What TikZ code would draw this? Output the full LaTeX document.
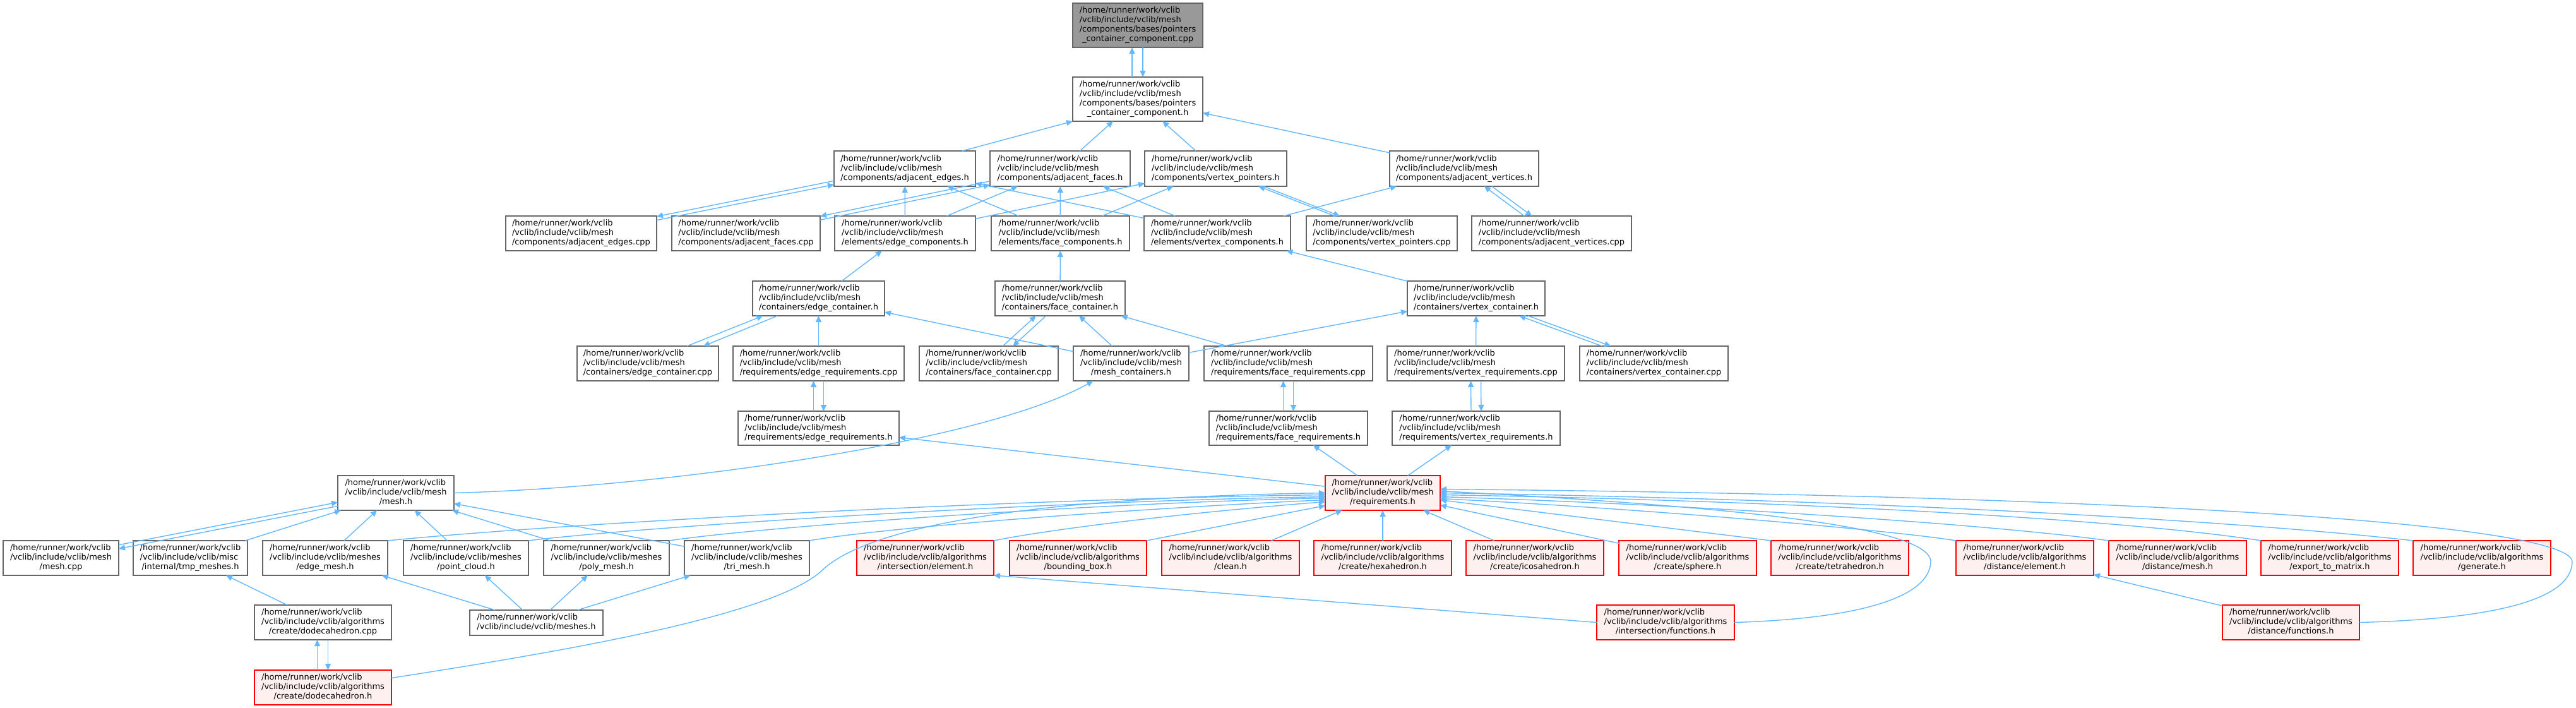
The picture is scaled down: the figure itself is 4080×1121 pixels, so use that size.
\documentclass[tikz,border=0pt]{standalone}
\usepackage{fontspec}
\setmainfont{DejaVu Sans}
\usetikzlibrary{arrows.meta}
\definecolor{edgec}{HTML}{63B8FF}
\definecolor{bordc}{HTML}{666666}
\definecolor{rootc}{HTML}{999999}
\definecolor{redfill}{HTML}{FFF0F0}
\newcommand\Lhome{/home/runner/work/vclib\\}
\newcommand\Lmesh{/vclib/include/vclib/mesh\\}
\newcommand\Lalg{/vclib/include/vclib/algorithms\\}
\newcommand\Lmeshes{/vclib/include/vclib/meshes\\}
\newcommand\Lmisc{/vclib/include/vclib/misc\\}
\newcommand\mynode[8]{%
  \node[#2, minimum width={#5-#3}, minimum height={#6-#4}] (#1) at ({(#3+#5)/2},{(#4+#6)/2})
  {\begin{tabular}{@{}l@{}}#7\multicolumn{1}{@{}c@{}}{#8}\end{tabular}};}
\begin{document}
\begin{tikzpicture}[x=1pt,y=-1pt,
  nbox/.style={draw=bordc, line width=1.2pt, fill=white, inner sep=0pt, outer sep=0pt,
    font=\fontsize{13}{15}\selectfont, text=black},
  rootbox/.style={nbox, fill=rootc},
  redbox/.style={nbox, draw=red, fill=redfill},
  edge/.style={draw=edgec, line width=1.4pt, -{Triangle[length=10pt,width=9pt]}},
]
\fill[white] (0,0) rectangle (4080,1121);
\useasboundingbox (0,0) rectangle (4080,1121);

% row 0-1
\mynode{root}{rootbox}{1699}{5}{1905}{75}{\Lhome\Lmesh/components/bases/pointers\\}{\_container\_component.cpp}
\mynode{pcch}{nbox}{1699}{122}{1905}{192}{\Lhome\Lmesh/components/bases/pointers\\}{\_container\_component.h}
% row 2
\mynode{aeh}{nbox}{1321}{239}{1545}{295}{\Lhome\Lmesh}{/components/adjacent\_edges.h}
\mynode{afh}{nbox}{1568}{239}{1790}{295}{\Lhome\Lmesh}{/components/adjacent\_faces.h}
\mynode{vph}{nbox}{1813}{239}{2038}{295}{\Lhome\Lmesh}{/components/vertex\_pointers.h}
\mynode{avh}{nbox}{2201}{239}{2437}{295}{\Lhome\Lmesh}{/components/adjacent\_vertices.h}
% row 3
\mynode{aec}{nbox}{801}{342}{1040}{397}{\Lhome\Lmesh}{/components/adjacent\_edges.cpp}
\mynode{afc}{nbox}{1064}{342}{1299}{397}{\Lhome\Lmesh}{/components/adjacent\_faces.cpp}
\mynode{ech}{nbox}{1322}{342}{1545}{397}{\Lhome\Lmesh}{/elements/edge\_components.h}
\mynode{fch}{nbox}{1570}{342}{1789}{397}{\Lhome\Lmesh}{/elements/face\_components.h}
\mynode{vch}{nbox}{1812}{342}{2044}{397}{\Lhome\Lmesh}{/elements/vertex\_components.h}
\mynode{vpc}{nbox}{2069}{342}{2308}{397}{\Lhome\Lmesh}{/components/vertex\_pointers.cpp}
\mynode{avc}{nbox}{2331}{342}{2584}{397}{\Lhome\Lmesh}{/components/adjacent\_vertices.cpp}
% row 4
\mynode{ecth}{nbox}{1192}{445}{1401}{500}{\Lhome\Lmesh}{/containers/edge\_container.h}
\mynode{fcth}{nbox}{1576}{445}{1782}{500}{\Lhome\Lmesh}{/containers/face\_container.h}
\mynode{vcth}{nbox}{2229}{445}{2447}{500}{\Lhome\Lmesh}{/containers/vertex\_container.h}
% row 5
\mynode{ectc}{nbox}{914}{548}{1138}{603}{\Lhome\Lmesh}{/containers/edge\_container.cpp}
\mynode{erc}{nbox}{1161}{548}{1432}{603}{\Lhome\Lmesh}{/requirements/edge\_requirements.cpp}
\mynode{fctc}{nbox}{1456}{548}{1676}{603}{\Lhome\Lmesh}{/containers/face\_container.cpp}
\mynode{mch}{nbox}{1700}{548}{1883}{603}{\Lhome\Lmesh}{/mesh\_containers.h}
\mynode{frc}{nbox}{1907}{548}{2174}{603}{\Lhome\Lmesh}{/requirements/face\_requirements.cpp}
\mynode{vrc}{nbox}{2197}{548}{2478}{603}{\Lhome\Lmesh}{/requirements/vertex\_requirements.cpp}
\mynode{vctc}{nbox}{2502}{548}{2737}{603}{\Lhome\Lmesh}{/containers/vertex\_container.cpp}
% row 6
\mynode{erh}{nbox}{1169}{651}{1424}{705}{\Lhome\Lmesh}{/requirements/edge\_requirements.h}
\mynode{frh}{nbox}{1915}{651}{2166}{705}{\Lhome\Lmesh}{/requirements/face\_requirements.h}
\mynode{vrh}{nbox}{2205}{651}{2471}{705}{\Lhome\Lmesh}{/requirements/vertex\_requirements.h}
% row 7
\mynode{meshh}{nbox}{535}{753}{719}{808}{\Lhome\Lmesh}{/mesh.h}
\mynode{req}{redbox}{2099}{753}{2281}{808}{\Lhome\Lmesh}{/requirements.h}
% row 8
\mynode{meshc}{nbox}{5}{856}{188}{911}{\Lhome\Lmesh}{/mesh.cpp}
\mynode{tmp}{nbox}{211}{856}{392}{911}{\Lhome\Lmisc}{/internal/tmp\_meshes.h}
\mynode{em}{nbox}{416}{856}{614}{911}{\Lhome\Lmeshes}{/edge\_mesh.h}
\mynode{pc}{nbox}{639}{856}{837}{911}{\Lhome\Lmeshes}{/point\_cloud.h}
\mynode{pm}{nbox}{861}{856}{1060}{911}{\Lhome\Lmeshes}{/poly\_mesh.h}
\mynode{tm}{nbox}{1084}{856}{1282}{911}{\Lhome\Lmeshes}{/tri\_mesh.h}
\mynode{ie}{redbox}{1357}{856}{1574}{911}{\Lhome\Lalg}{/intersection/element.h}
\mynode{bb}{redbox}{1599}{856}{1816}{911}{\Lhome\Lalg}{/bounding\_box.h}
\mynode{cl}{redbox}{1840}{856}{2058}{911}{\Lhome\Lalg}{/clean.h}
\mynode{hex}{redbox}{2081}{856}{2299}{911}{\Lhome\Lalg}{/create/hexahedron.h}
\mynode{ico}{redbox}{2322}{856}{2540}{911}{\Lhome\Lalg}{/create/icosahedron.h}
\mynode{sph}{redbox}{2564}{856}{2782}{911}{\Lhome\Lalg}{/create/sphere.h}
\mynode{tet}{redbox}{2805}{856}{3023}{911}{\Lhome\Lalg}{/create/tetrahedron.h}
\mynode{de}{redbox}{3098}{856}{3316}{911}{\Lhome\Lalg}{/distance/element.h}
\mynode{dm}{redbox}{3340}{856}{3558}{911}{\Lhome\Lalg}{/distance/mesh.h}
\mynode{etm}{redbox}{3581}{856}{3799}{911}{\Lhome\Lalg}{/export\_to\_matrix.h}
\mynode{gen}{redbox}{3822}{856}{4040}{911}{\Lhome\Lalg}{/generate.h}
% row 9
\mynode{dodc}{nbox}{403}{958}{620}{1013}{\Lhome\Lalg}{/create/dodecahedron.cpp}
\mynode{meshes}{nbox}{744}{966}{955}{1006}{\Lhome}{/vclib/include/vclib/meshes.h}
\mynode{ifn}{redbox}{2529}{958}{2747}{1013}{\Lhome\Lalg}{/intersection/functions.h}
\mynode{dfn}{redbox}{3520}{958}{3737}{1013}{\Lhome\Lalg}{/distance/functions.h}
% row 10
\mynode{dodh}{redbox}{403}{1061}{620}{1116}{\Lhome\Lalg}{/create/dodecahedron.h}

% ---- edges ----
\draw[edge] ([xshift=-9pt]pcch.north) -- ([xshift=-9pt]root.south);
\draw[edge] ([xshift=8pt]root.south) -- ([xshift=8pt]pcch.north);
\draw[edge] ([xshift=91pt]aeh.north) -- (pcch.south west);
\draw[edge] (afh) -- (pcch);
\draw[edge] (vph) -- (pcch);
\draw[edge] (avh) -- (pcch);

\draw[edge, transform canvas={yshift=3pt}] (aeh) -- (aec);
\draw[edge, transform canvas={yshift=-3pt}] (aec) -- (aeh);
\draw[edge] (ech) -- (aeh);
\draw[edge] (fch) -- (aeh);
\draw[edge] (vch) -- (aeh);
\draw[edge, transform canvas={yshift=3pt}] (afh) -- (afc);
\draw[edge, transform canvas={yshift=-3pt}] (afc) -- (afh);
\draw[edge] (ech) -- (afh);
\draw[edge] (fch) -- (afh);
\draw[edge] (vch) -- (afh);
\draw[edge, transform canvas={xshift=-4pt}] (vpc) -- (vph);
\draw[edge, transform canvas={xshift=4pt}] (vph) -- (vpc);
\draw[edge] (ech) -- (vph);
\draw[edge] (fch) -- (vph);
\draw[edge] (vch) -- (avh);
\draw[edge, transform canvas={xshift=-6pt}] (avc) -- (avh);
\draw[edge, transform canvas={xshift=6pt}] (avh) -- (avc);

\draw[edge] (ecth) -- (ech);
\draw[edge] (fcth) -- (fch);
\draw[edge] (vcth) -- (vch);

\draw[edge] ([xshift=62pt]ectc.north) -- ([xshift=-88pt]ecth.south);
\draw[edge] ([xshift=-65pt]ecth.south) -- ([xshift=88pt]ectc.north);
\draw[edge] (erc) -- (ecth);
\draw[edge] (mch) -- (ecth);
\draw[edge, transform canvas={xshift=-8pt}] (fctc) -- (fcth);
\draw[edge, transform canvas={xshift=8pt}] (fcth) -- (fctc);
\draw[edge] (mch) -- (fcth);
\draw[edge] (frc) -- (fcth);
\draw[edge] (mch) -- (vcth);
\draw[edge] (vrc) -- (vcth);
\draw[edge, transform canvas={xshift=-7pt}] (vctc) -- (vcth);
\draw[edge, transform canvas={xshift=7pt}] (vcth) -- (vctc);

\draw[edge] ([xshift=-8pt]erh.north) -- ([xshift=-8pt]erc.south);
\draw[edge] ([xshift=8pt]erc.south) -- ([xshift=8pt]erh.north);
\draw[edge] ([xshift=-8pt]frh.north) -- ([xshift=-8pt]frc.south);
\draw[edge] ([xshift=8pt]frc.south) -- ([xshift=8pt]frh.north);
\draw[edge] ([xshift=-8pt]vrh.north) -- ([xshift=-8pt]vrc.south);
\draw[edge] ([xshift=8pt]vrc.south) -- ([xshift=8pt]vrh.north);

\draw[edge] (meshh.east) .. controls (1050,772) and (1560,700) .. ([xshift=-60pt]mch.south);

\draw[edge] (req) -- (erh);
\draw[edge] (req) -- (frh);
\draw[edge] (req) -- (vrh);

\draw[edge, transform canvas={yshift=3pt}] (meshc) -- (meshh);
\draw[edge, transform canvas={yshift=-3pt}] (meshh) -- (meshc);
\draw[edge] (tmp) -- (meshh);
\draw[edge] (em) -- (meshh);
\draw[edge] (pc) -- (meshh);
\draw[edge] (pm) -- (meshh);
\draw[edge] (tm) -- (meshh);

\draw[edge] (em.north east) .. controls (900,828) and (1600,790) .. ([yshift=-3pt]req.west);
\draw[edge] (pc.north east) .. controls (1000,836) and (1600,795) .. ([yshift=-6pt]req.west);
\draw[edge] (pm.north east) .. controls (1200,835) and (1700,798) .. ([yshift=-8pt]req.west);
\draw[edge] (tm.north east) .. controls (1400,835) and (1800,805) .. ([yshift=-11pt]req.west);
\draw[edge] (ie.north east) .. controls (1680,835) and (1900,810) .. ([yshift=-14pt]req.west);
\draw[edge] (bb.north east) -- ([yshift=-20pt]req.west);
\draw[edge] (cl) -- (req);
\draw[edge] (hex) -- (req);
\draw[edge] (ico) -- (req);
\draw[edge] (sph) -- (req);
\draw[edge] (tet.north west) -- (req);
\draw[edge] (de.north west) .. controls (3000,840) and (2600,805) .. ([yshift=-9pt]req.east);
\draw[edge] (dm.north west) .. controls (3150,830) and (2700,800) .. ([yshift=-6pt]req.east);
\draw[edge] (etm.north west) .. controls (3350,820) and (2800,792) .. ([yshift=-3pt]req.east);
\draw[edge] (gen.north west) .. controls (3500,820) and (2900,790) .. (req.east);

\draw[edge] (ifn.west) -- (ie.south east);
\draw[edge] (ifn.east) .. controls (2930,980) and (3055,950) .. (3058,890)
  .. controls (3060,830) and (2700,800) .. ([yshift=3pt]req.east);
\draw[edge] (dfn.east) .. controls (3950,980) and (4072,950) .. (4074,890)
  .. controls (4076,830) and (3400,785) .. ([yshift=6pt]req.east);
\draw[edge] (dfn) -- (de);

\draw[edge] (dodc) -- (tmp);
\draw[edge] ([xshift=-9pt]dodh.north) -- ([xshift=-9pt]dodc.south);
\draw[edge] ([xshift=8pt]dodc.south) -- ([xshift=8pt]dodh.north);
\draw[edge] ([yshift=15pt]dodh.east) .. controls (900,1030) and (1220,975) .. (1300,905)
  .. controls (1345,860) and (1500,790) .. (req.west);

\draw[edge] (meshes) -- (em);
\draw[edge] (meshes) -- (pc);
\draw[edge] (meshes) -- (pm);
\draw[edge] (meshes) -- (tm);
\end{tikzpicture}
\end{document}
